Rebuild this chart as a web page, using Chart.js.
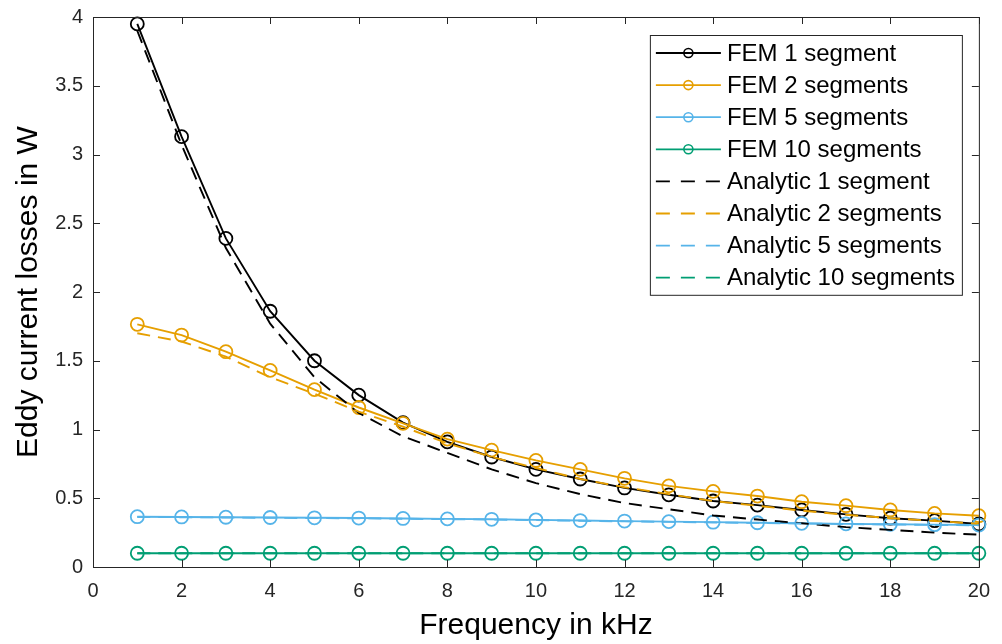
<!DOCTYPE html>
<html>
<head>
<meta charset="utf-8">
<script src="https://cdn.jsdelivr.net/npm/chart.js@4.4.1/dist/chart.umd.min.js"></script>
<style>
    html, body { margin: 0; padding: 0; background: #fff; }
    #wrap { width: 1002px; height: 644px; }
</style>
</head>
<body>
<div id="wrap"><canvas id="losses-chart" width="1002" height="644"></canvas></div>
<script>
// Frequencies in kHz
const frequencies = [1, 2, 3, 4, 5, 6, 7, 8, 9, 10, 11, 12, 13, 14, 15, 16, 17, 18, 19, 20];

// Eddy current losses in W, FEM simulation
const fem1 = [3.95, 3.13, 2.39, 1.86, 1.50, 1.25, 1.05, 0.91, 0.80, 0.71, 0.64, 0.575, 0.525, 0.48, 0.45, 0.415, 0.383, 0.355, 0.337, 0.313];
const fem2 = [1.765, 1.687, 1.566, 1.43, 1.29, 1.16, 1.045, 0.93, 0.85, 0.775, 0.71, 0.645, 0.59, 0.55, 0.516, 0.475, 0.446, 0.415, 0.39, 0.373];
const fem5 = [0.366, 0.364, 0.362, 0.360, 0.358, 0.356, 0.353, 0.350, 0.347, 0.343, 0.338, 0.334, 0.330, 0.326, 0.322, 0.318, 0.314, 0.311, 0.308, 0.305];
const fem10 = [0.1, 0.1, 0.1, 0.1, 0.1, 0.1, 0.1, 0.1, 0.1, 0.1, 0.1, 0.1, 0.1, 0.1, 0.1, 0.1, 0.1, 0.1, 0.1, 0.1];

// Eddy current losses in W, analytic model
const analytic1 = [3.90, 3.07, 2.32, 1.77, 1.38, 1.12, 0.95, 0.83, 0.71, 0.61, 0.53, 0.465, 0.42, 0.375, 0.345, 0.318, 0.29, 0.27, 0.25, 0.235];
const analytic2 = [1.70, 1.64, 1.53, 1.38, 1.26, 1.13, 1.02, 0.90, 0.80, 0.72, 0.64, 0.58, 0.53, 0.48, 0.445, 0.41, 0.38, 0.355, 0.335, 0.315];
const analytic5 = [0.364, 0.362, 0.360, 0.358, 0.356, 0.354, 0.351, 0.348, 0.345, 0.341, 0.336, 0.332, 0.328, 0.324, 0.320, 0.316, 0.312, 0.309, 0.306, 0.303];
const analytic10 = [0.1, 0.1, 0.1, 0.1, 0.1, 0.1, 0.1, 0.1, 0.1, 0.1, 0.1, 0.1, 0.1, 0.1, 0.1, 0.1, 0.1, 0.1, 0.1, 0.1];

const seriesNames = [
    'FEM 1 segment', 'FEM 2 segments', 'FEM 5 segments', 'FEM 10 segments',
    'Analytic 1 segment', 'Analytic 2 segments', 'Analytic 5 segments', 'Analytic 10 segments'
];
const seriesValues = [fem1, fem2, fem5, fem10, analytic1, analytic2, analytic5, analytic10];

const COLORS = ['#000000', '#E69F00', '#56B4E9', '#009E73'];
const DASH = [13, 8];
const AXIS_COLOR = '#262626';
const FONT = '"Liberation Sans", Arial, Helvetica, sans-serif';

function buildDatasets() {
    return seriesNames.map((name, i) => {
        const isFem = i < 4;
        return {
            label: name,
            data: frequencies.map((f, k) => ({ x: f, y: seriesValues[i][k] })),
            borderColor: COLORS[i % 4],
            borderWidth: 1.9,
            borderDash: isFem ? [] : DASH,
            pointStyle: 'circle',
            pointRadius: isFem ? 6.5 : 0,
            pointBorderWidth: 1.8,
            pointBorderColor: COLORS[i % 4],
            pointBackgroundColor: 'rgba(0,0,0,0)',
            tension: 0,
            fill: false,
            clip: false,
            order: 8 - i
        };
    });
}

// Closed axes box with inward ticks on all four sides
const axesBox = {
    id: 'axesBox',
    afterDatasetsDraw(chart) {
        const { ctx, chartArea: a, scales } = chart;
        const len = 7;
        ctx.save();
        ctx.strokeStyle = AXIS_COLOR;
        ctx.lineWidth = 1;
        ctx.strokeRect(a.left + 0.5, a.top + 0.5, a.right - a.left, a.bottom - a.top);
        ctx.beginPath();
        scales.x.ticks.forEach(t => {
            const px = Math.round(scales.x.getPixelForValue(t.value)) + 0.5;
            ctx.moveTo(px, a.bottom); ctx.lineTo(px, a.bottom - len);
            ctx.moveTo(px, a.top); ctx.lineTo(px, a.top + len);
        });
        scales.y.ticks.forEach(t => {
            const py = Math.round(scales.y.getPixelForValue(t.value)) + 0.5;
            ctx.moveTo(a.left, py); ctx.lineTo(a.left + len, py);
            ctx.moveTo(a.right, py); ctx.lineTo(a.right - len, py);
        });
        ctx.stroke();
        ctx.restore();
    }
};

// Legend box in the upper right corner of the axes
const boxLegend = {
    id: 'boxLegend',
    afterDraw(chart) {
        const { ctx, chartArea: a } = chart;
        const right = a.right - 17;
        const top = a.top + 18;
        const width = 312;
        const rowH = 32.1;
        const left = right - width;
        const height = rowH * seriesNames.length + 3;
        ctx.save();
        ctx.fillStyle = '#fff';
        ctx.fillRect(left, top, width, height);
        ctx.strokeStyle = AXIS_COLOR;
        ctx.lineWidth = 1;
        ctx.strokeRect(left + 0.5, top + 0.5, width, height);
        ctx.font = '24px ' + FONT;
        ctx.textBaseline = 'middle';
        seriesNames.forEach((name, i) => {
            const y = top + 18 + i * rowH;
            const x0 = left + 6;
            const x1 = left + 71;
            ctx.strokeStyle = COLORS[i % 4];
            ctx.lineWidth = 1.8;
            ctx.setLineDash(i < 4 ? [] : [14, 11]);
            ctx.beginPath();
            ctx.moveTo(x0, y);
            ctx.lineTo(x1, y);
            ctx.stroke();
            ctx.setLineDash([]);
            if (i < 4) {
                ctx.lineWidth = 1.6;
                ctx.beginPath();
                ctx.arc((x0 + x1) / 2, y, 4.5, 0, Math.PI * 2);
                ctx.stroke();
            }
            ctx.fillStyle = '#000';
            ctx.fillText(name, left + 77, y + 1);
        });
        ctx.restore();
    }
};

document.addEventListener('DOMContentLoaded', () => {
    const ctx = document.getElementById('losses-chart').getContext('2d');
    new Chart(ctx, {
        type: 'line',
        data: { datasets: buildDatasets() },
        options: {
            responsive: false,
            animation: false,
            devicePixelRatio: 1,
            layout: { padding: { top: 17, right: 22, left: 0, bottom: 0 } },
            plugins: {
                legend: { display: false },
                tooltip: { enabled: false }
            },
            scales: {
                x: {
                    type: 'linear',
                    min: 0,
                    max: 20,
                    grid: { display: false, drawTicks: false },
                    border: { display: false },
                    ticks: {
                        stepSize: 2,
                        padding: 12,
                        maxRotation: 0,
                        color: AXIS_COLOR,
                        font: { family: FONT, size: 20 }
                    },
                    title: {
                        display: true,
                        text: 'Frequency in kHz',
                        color: '#000',
                        padding: { top: 0, bottom: 0 },
                        font: { family: FONT, size: 30 }
                    },
                    afterFit: scale => { scale.height = 77; }
                },
                y: {
                    min: 0,
                    max: 4,
                    grid: { display: false, drawTicks: false },
                    border: { display: false },
                    ticks: {
                        stepSize: 0.5,
                        padding: 10,
                        color: AXIS_COLOR,
                        font: { family: FONT, size: 20 },
                        callback: value => String(Math.round(value * 10) / 10)
                    },
                    title: {
                        display: true,
                        text: 'Eddy current losses in W',
                        color: '#000',
                        padding: { top: 11, bottom: 0 },
                        font: { family: FONT, size: 30 }
                    },
                    afterFit: scale => {
                        scale.width = 93;
                        scale.paddingTop = 0;
                        scale.paddingBottom = 0;
                    }
                }
            }
        },
        plugins: [axesBox, boxLegend]
    });
});
</script>
</body>
</html>
